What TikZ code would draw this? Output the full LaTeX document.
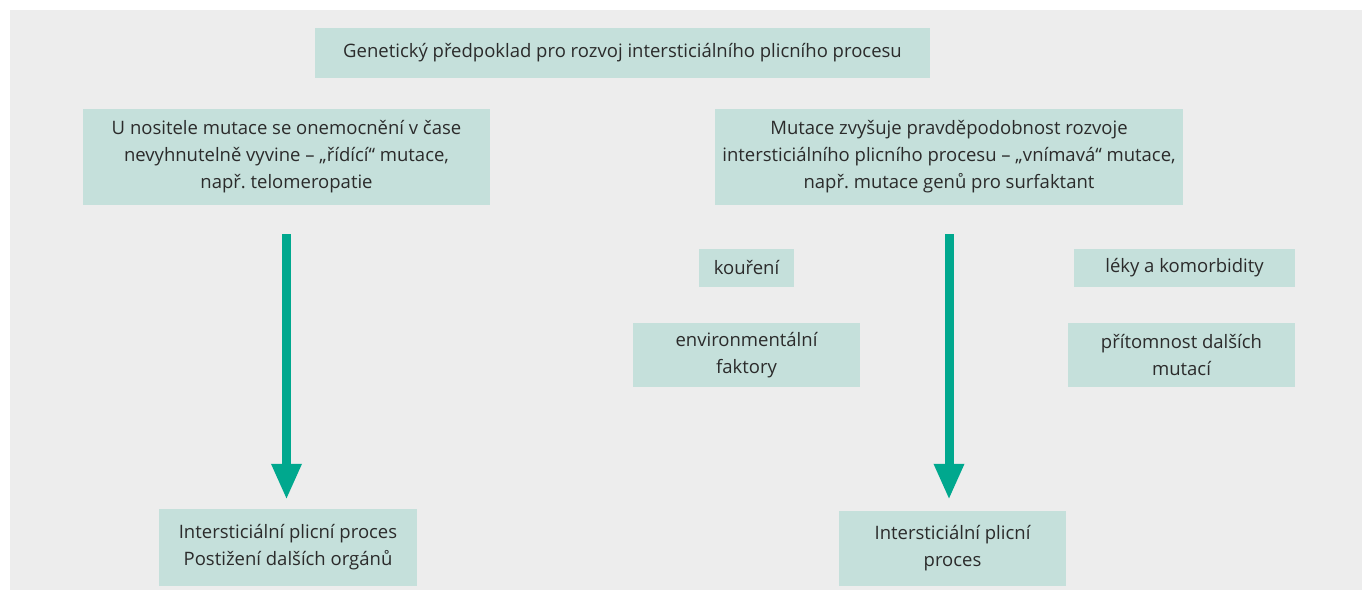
\documentclass[tikz,border=0pt]{standalone}
\usepackage{fontspec}
\setmainfont{Open Sans}
\frenchspacing
\usetikzlibrary{arrows.meta}
\definecolor{boxfill}{HTML}{C5E0DB}
\definecolor{panel}{HTML}{EDEDED}
\definecolor{flowteal}{HTML}{00A88E}
\definecolor{boxtext}{HTML}{2B2B2B}

\begin{document}
\begin{tikzpicture}[x=1pt, y=-1pt,
    box/.style={fill=boxfill, text=boxtext, align=center, inner sep=0pt,
        font=\fontsize{18.5}{27}\selectfont},
    flow/.style={draw=flowteal, line width=9pt,
        -{Triangle[length=36pt, width=28pt]}}
]
    \useasboundingbox (0,0) rectangle (1362,591);
    \fill[panel] (10,10) rectangle (1362,590);

    \node[box, minimum width=615pt, minimum height=50pt] (gen) at (622.5,53)
        {Genetický předpoklad pro rozvoj intersticiálního plicního procesu};
    \node[box, minimum width=407pt, minimum height=96pt] (ridici) at (286.5,157)
        {U nositele mutace se onemocnění v čase\\nevyhnutelně vyvine – „řídící“ mutace,\\např. telomeropatie};
    \node[box, minimum width=468pt, minimum height=96pt] (vnimava) at (949,157)
        {Mutace zvyšuje pravděpodobnost rozvoje\\intersticiálního plicního procesu – „vnímavá“ mutace,\\např. mutace genů pro surfaktant};
    \node[box, minimum width=95pt, minimum height=38pt] (koureni) at (746.5,268)
        {kouření};
    \node[box, minimum width=221pt, minimum height=38pt] (leky) at (1184.5,268)
        {léky a komorbidity};
    \node[box, minimum width=227pt, minimum height=64pt] (env) at (746.5,355)
        {environmentální\\faktory};
    \node[box, minimum width=227pt, minimum height=64pt] (dalsi) at (1181.5,355)
        {přítomnost dalších\\mutací};
    \node[box, minimum width=258pt, minimum height=77pt] (ildorg) at (288,547.5)
        {Intersticiální plicní proces\\Postižení dalších orgánů};
    \node[box, minimum width=227pt, minimum height=75pt] (ild) at (952.5,548.5)
        {Intersticiální plicní\\proces};

    \draw[flow, shorten <=29pt, shorten >=9pt] (ridici.south) -- (ridici.south |- ildorg.north);
    \draw[flow, shorten <=29pt, shorten >=11pt] (vnimava.south) -- (vnimava.south |- ild.north);
\end{tikzpicture}
\end{document}
